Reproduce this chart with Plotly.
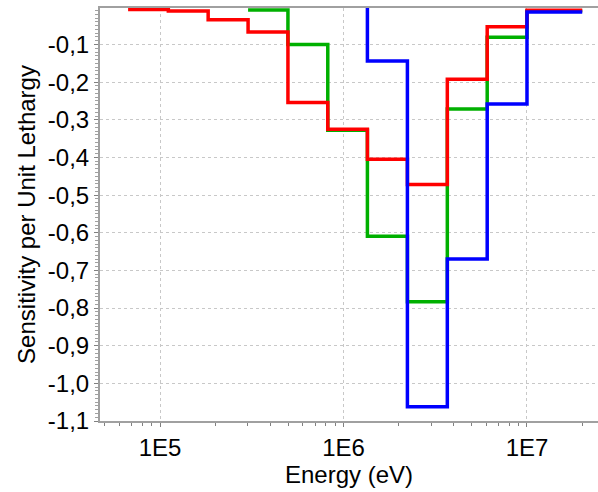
import plotly.graph_objects as go

# Energy group boundaries (eV), lower edges + final upper edge
edges = [6.7e4, 1.11e5, 1.83e5, 3.02e5, 4.98e5, 8.21e5, 1.35e6, 2.23e6, 3.68e6, 6.07e6, 1.0e7, 2.0e7]

# Sensitivity per unit lethargy for each group (None = not plotted)
red_vals = [-0.007, -0.011, -0.034, -0.067, -0.254, -0.325, -0.405, -0.472, -0.192, -0.053, -0.009]
green_vals = [None, None, None, -0.008, -0.100, -0.328, -0.609, -0.783, -0.271, -0.081, -0.011]
blue_vals = [None, None, None, None, None, 0.02, -0.144, -1.062, -0.670, -0.258, -0.0135]

y_tick_vals = [-0.1, -0.2, -0.3, -0.4, -0.5, -0.6, -0.7, -0.8, -0.9, -1.0, -1.1]
y_tick_text = [f"{v:.1f}".replace(".", ",") for v in y_tick_vals]
x_tick_vals = [1e5, 1e6, 1e7]
x_tick_text = ["1E5", "1E6", "1E7"]


def step_xy(vals):
    xs, ys = [], []
    for i, v in enumerate(vals):
        if v is None:
            continue
        xs.append(edges[i])
        ys.append(v)
    last = max(i for i, v in enumerate(vals) if v is not None)
    xs.append(edges[last + 1])
    ys.append(vals[last])
    return xs, ys


fig = go.Figure()
for vals, color in [(green_vals, "#00B000"), (red_vals, "#FF0000"), (blue_vals, "#0000FF")]:
    xs, ys = step_xy(vals)
    fig.add_trace(go.Scatter(x=xs, y=ys, mode="lines", line=dict(color=color, width=3.5, shape="hv"),
                             showlegend=False, hoverinfo="skip"))

minor_x = [m * 10 ** d for d in range(4, 8) for m in range(2, 10)]

font = dict(family="Liberation Sans, Arial, sans-serif", size=24, color="black")

fig.update_layout(
    width=598, height=492,
    margin=dict(l=100, r=0, t=8, b=71),
    paper_bgcolor="white", plot_bgcolor="white",
    font=font,
    hovermode=False,
    xaxis=dict(
        type="log", range=[4.673, 7.387], automargin=False,
        tickvals=x_tick_vals, ticktext=x_tick_text,
        ticks="outside", ticklen=4, tickcolor="#808080",
        showline=True, linecolor="#a0a0a0", linewidth=2, mirror=True,
        showgrid=True, gridcolor="#c8c8c8", griddash="dot", gridwidth=1,
        zeroline=False,
        minor=dict(tickvals=minor_x, ticks="outside", ticklen=3, tickcolor="#808080", showgrid=False),
        title=dict(text="Energy (eV)", font=font, standoff=1),
        tickfont=font,
    ),
    yaxis=dict(
        range=[-1.1, -0.003], automargin=False,
        tickvals=y_tick_vals, ticktext=y_tick_text,
        ticks="outside", ticklen=4, tickcolor="#808080",
        showline=True, linecolor="#a0a0a0", linewidth=2,
        showgrid=True, gridcolor="#c8c8c8", griddash="dot", gridwidth=1,
        zeroline=False,
        minor=dict(dtick=0.01, ticks="outside", ticklen=3, tickcolor="#a0a0a0", showgrid=False),
        title=dict(text="Sensitivity per Unit Lethargy", font=font, standoff=5),
        tickfont=font,
    ),
)

fig.write_html("out.html", config={"displayModeBar": False},
               post_script="document.body.style.margin='0';document.body.style.padding='0';")
